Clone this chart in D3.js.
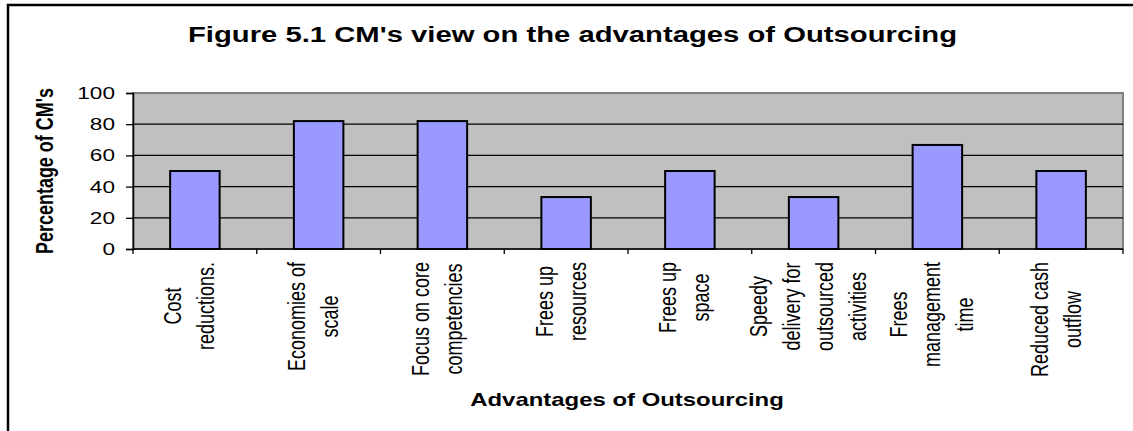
<!DOCTYPE html>
<html>
<head>
<meta charset="utf-8">
<script src="https://cdn.jsdelivr.net/npm/d3@7"></script>
<style>
  html, body { margin: 0; padding: 0; background: #fff; }
  svg { display: block; }
  text { font-family: "Liberation Sans", Arial, sans-serif; fill: #000; }
</style>
</head>
<body>
<svg id="chart" width="1133" height="431"></svg>
<script>
// ---- data ----
const categories = [
  "Cost reductions.",
  "Economies of scale",
  "Focus on core competencies",
  "Frees up resources",
  "Frees up space",
  "Speedy delivery for outsourced activities",
  "Frees management time",
  "Reduced cash outflow"
];
const categoryLines = [
  ["Cost", "reductions."],
  ["Economies of", "scale"],
  ["Focus on core", "competencies"],
  ["Frees up", "resources"],
  ["Frees up", "space"],
  ["Speedy", "delivery for", "outsourced", "activities"],
  ["Frees", "management", "time"],
  ["Reduced cash", "outflow"]
];
const values = [50, 82, 82, 33.3, 50, 33.3, 66.7, 50];
const yTicks = [0, 20, 40, 60, 80, 100];
const titleText = "Figure 5.1 CM's view on the advantages of Outsourcing";
const xTitleText = "Advantages of Outsourcing";
const yTitleText = "Percentage of CM's";

// ---- layout ----
const SX = 1.33; // horizontal stretch of the original rendering
const plot = { left: 133, right: 1123, top: 93, bottom: 249 };

const svg = d3.select("#chart");

// outer chart border (right/bottom edges fall outside the picture)
svg.append("rect")
  .attr("x", 8).attr("y", 5)
  .attr("width", 1200).attr("height", 500)
  .attr("fill", "none").attr("stroke", "#000").attr("stroke-width", 2.5);

const x = d3.scaleBand()
  .domain(categories)
  .range([plot.left, plot.right])
  .paddingInner(0.6)
  .paddingOuter(0.3);

const y = d3.scaleLinear()
  .domain([0, 100])
  .range([plot.bottom, plot.top]);

// plot background
svg.append("rect")
  .attr("x", plot.left).attr("y", plot.top)
  .attr("width", plot.right - plot.left).attr("height", plot.bottom - plot.top)
  .attr("fill", "#C0C0C0")
  .attr("stroke", "#808080").attr("stroke-width", 2);

// gridlines
svg.append("g")
  .selectAll("line")
  .data(yTicks.filter(d => d > 0 && d < 100))
  .join("line")
  .attr("x1", plot.left).attr("x2", plot.right)
  .attr("y1", d => y(d)).attr("y2", d => y(d))
  .attr("stroke", "#000").attr("stroke-width", 1.3);

// bars
svg.append("g")
  .selectAll("rect")
  .data(values)
  .join("rect")
  .attr("x", (d, i) => x(categories[i]))
  .attr("y", d => y(d))
  .attr("width", x.bandwidth())
  .attr("height", d => y(0) - y(d))
  .attr("fill", "#9999FF")
  .attr("stroke", "#000").attr("stroke-width", 2);

// y axis
const yAxis = svg.append("g")
  .attr("transform", `translate(${plot.left},0)`)
  .call(d3.axisLeft(y).tickValues(yTicks).tickSize(7).tickFormat(d3.format("d")));
yAxis.select(".domain").attr("stroke", "#000").attr("stroke-width", 1.5);
yAxis.selectAll(".tick line").attr("stroke", "#000").attr("stroke-width", 1.3);
yAxis.selectAll(".tick text").remove();
svg.append("g")
  .selectAll("text")
  .data(yTicks)
  .join("text")
  .attr("transform", d => `translate(115,${y(d) + 6}) scale(${SX},1)`)
  .attr("text-anchor", "end")
  .attr("font-size", 17)
  .text(d => d);

// x axis with tick marks at category boundaries
const boundaries = d3.range(categories.length + 1).map(i => plot.left + i * x.step());
svg.append("line")
  .attr("x1", plot.left).attr("x2", plot.right)
  .attr("y1", plot.bottom).attr("y2", plot.bottom)
  .attr("stroke", "#000").attr("stroke-width", 1.5);
svg.append("g")
  .selectAll("line")
  .data(boundaries)
  .join("line")
  .attr("x1", d => d).attr("x2", d => d)
  .attr("y1", plot.bottom).attr("y2", plot.bottom + 5)
  .attr("stroke", "#000").attr("stroke-width", 1.3);

// category labels (rotated, multi-line, centered)
const labelTop = 262;
const lineGap = 33;
const labelG = svg.append("g");
categoryLines.forEach((lines, ci) => {
  const cx = x(categories[ci]) + x.bandwidth() / 2;
  const texts = lines.map((ln, li) => {
    const bx = cx + (li - (lines.length - 1) / 2) * lineGap + 3;
    return labelG.append("text")
      .attr("data-bx", bx)
      .attr("text-anchor", "middle")
      .attr("font-size", 18)
      .text(ln);
  });
  const maxLen = d3.max(texts, t => t.node().getComputedTextLength());
  const yc = labelTop + maxLen / 2;
  texts.forEach(t => {
    t.attr("transform", `translate(${t.attr("data-bx")},${yc}) scale(${SX},1) rotate(-90)`);
  });
});

// title
svg.append("text")
  .attr("transform", `translate(572.5,41.5) scale(${SX},1)`)
  .attr("text-anchor", "middle")
  .attr("font-size", 22)
  .attr("font-weight", "bold")
  .text(titleText);

// x axis title
svg.append("text")
  .attr("transform", `translate(${(plot.left + plot.right) / 2 - 1},406) scale(${SX},1)`)
  .attr("text-anchor", "middle")
  .attr("font-size", 18)
  .attr("font-weight", "bold")
  .text(xTitleText);

// y axis title
svg.append("text")
  .attr("transform", `translate(53,${(plot.top + plot.bottom) / 2}) scale(${SX},1) rotate(-90)`)
  .attr("text-anchor", "middle")
  .attr("font-size", 18)
  .attr("font-weight", "bold")
  .text(yTitleText);
</script>
</body>
</html>
